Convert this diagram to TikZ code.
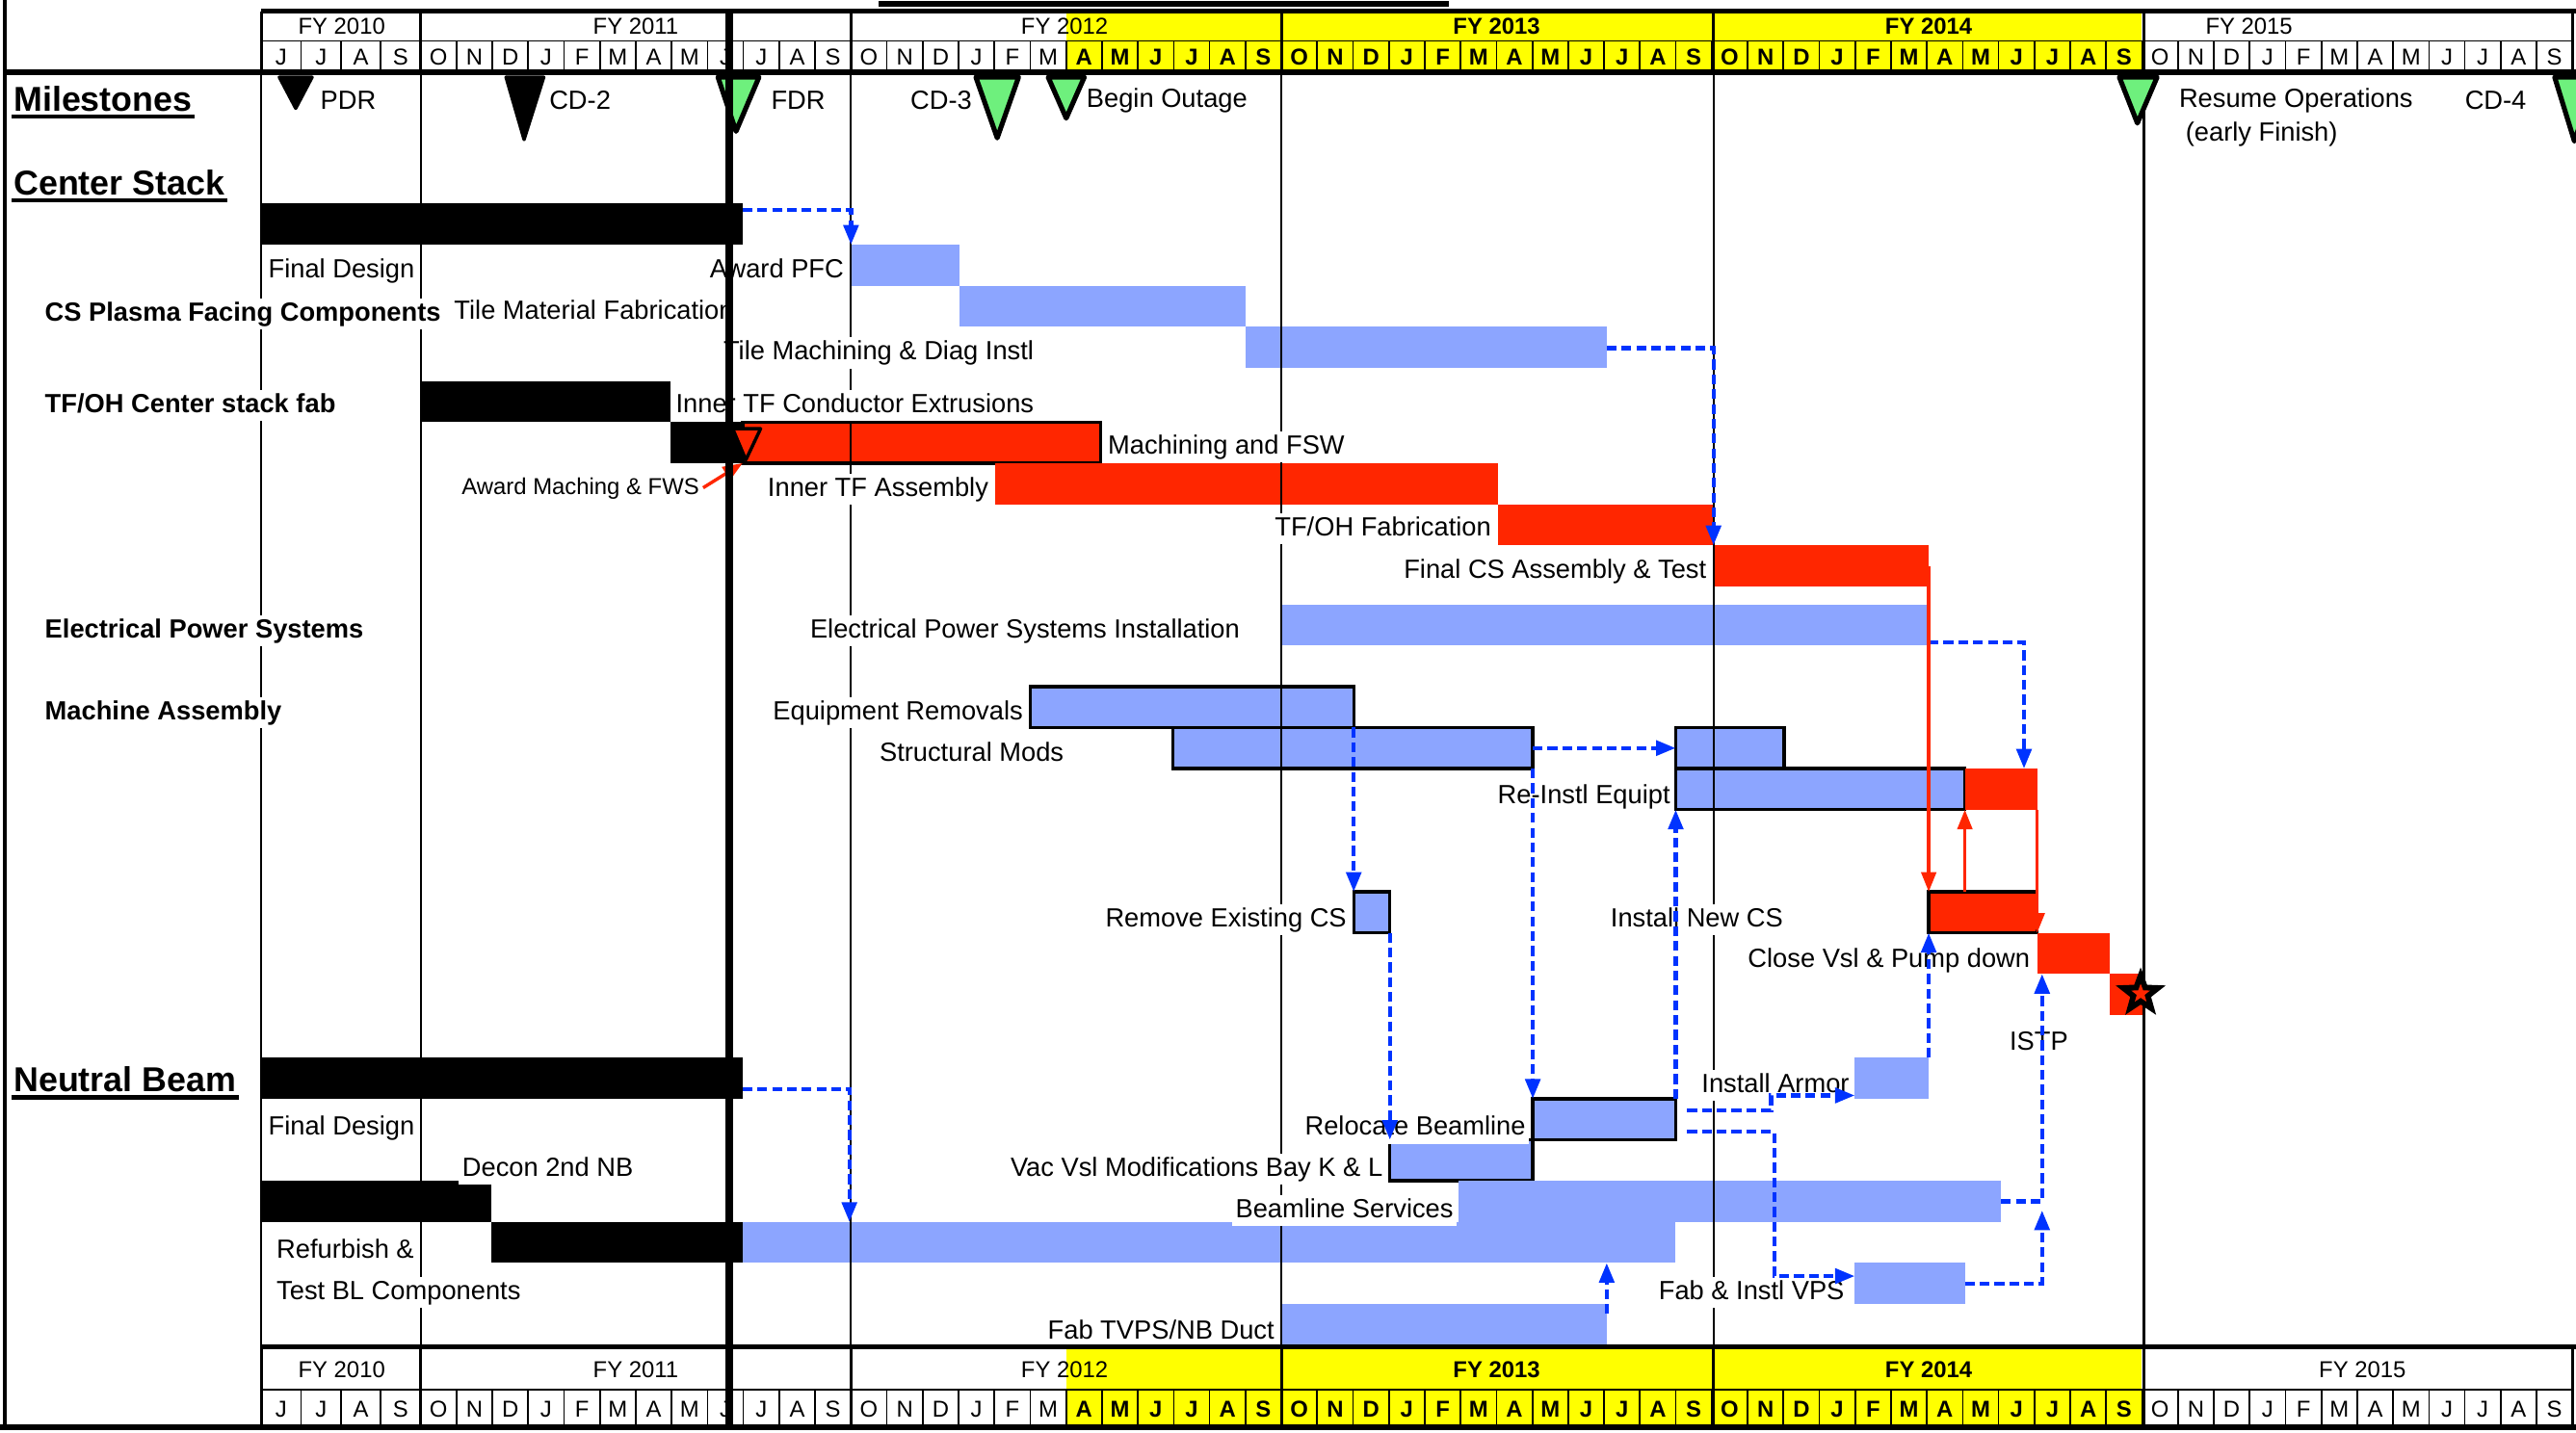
\documentclass[tikz,border=0pt]{standalone}
\usepackage{fontspec}
\setmainfont{Liberation Sans}
\usetikzlibrary{arrows.meta,fit,shapes.geometric}

\definecolor{taskblue}{RGB}{140,165,255}
\definecolor{taskred}{RGB}{255,38,0}
\definecolor{linkblue}{RGB}{0,51,255}
\definecolor{msgreen}{RGB}{110,240,125}
\definecolor{fyyellow}{RGB}{255,255,0}

\begin{document}
\begin{tikzpicture}[x=0.5pt,y=-0.5pt,
    every node/.style={font=\fontsize{8}{9.6}\selectfont, inner sep=1pt},
    lbl/.style={fill=white, text height=5.9pt, text depth=1.6pt, yshift=-1pt},
    head/.style={font=\bfseries\fontsize{10.5}{12}\selectfont, inner sep=0.5pt},
    group/.style={lbl, font=\bfseries\fontsize{8}{9.6}\selectfont},
    bar/.style={inner sep=0pt, outer sep=0pt},
    done/.style={bar, fill=black},
    plan/.style={bar, fill=taskblue},
    crit/.style={bar, fill=taskred},
    boxed/.style={draw=black, line width=1pt},
    link/.style={linkblue, line width=1.25pt, dash pattern=on 3pt off 1.5pt,
        -{Triangle[length=6pt,width=4.5pt]}},
    critlink/.style={taskred, line width=1pt, -{Triangle[length=6pt,width=4.5pt]}},
    mstone/.style={fill=msgreen, draw=black, line width=1.5pt, line join=round},
    blackstone/.style={fill=black, draw=black, line width=1pt, line join=round},
    month/.style={font=\fontsize{7}{8}\selectfont, inner sep=0pt},
    monthhl/.style={month, font=\bfseries\fontsize{7}{8}\selectfont},
    fylbl/.style={font=\fontsize{7}{8}\selectfont, inner sep=0pt},
    fyhl/.style={fylbl, font=\bfseries\fontsize{7}{8}\selectfont},
    gridline/.style={line width=0.6pt},
    cell/.style={line width=0.5pt},
    rule/.style={line width=1.5pt}]
\clip (0,0) rectangle (1568,872);

% title remnant
\draw[line width=1.8pt] (535,2.5) -- (882,2.5);

% --- center stack bars
\node[done, fit={(159,124) (452,149)}] (csfd) {};
\node[plan, fit={(518,149) (584,174)}] (pfc) {};
\node[plan, fit={(584,174) (758,199)}] (tilemat) {};
\node[plan, fit={(758,199) (978,224)}] (tilemach) {};
\node[done, fit={(256,232) (408,257)}] (tfext) {};
\node[done, fit={(408,257) (452,282)}] (machblk) {};
\node[crit, boxed, fit={(452,257) (670,282)}] (machfsw) {};
\node[crit, fit={(606,282) (912,307)}] (innertf) {};
\node[crit, fit={(912,307) (1043,332)}] (tfohfab) {};
\node[crit, fit={(1043,332) (1174,357)}] (finalcs) {};
% --- electrical power
\node[plan, fit={(780,368) (1174,393)}] (eps) {};
% --- machine assembly
\node[plan, boxed, fit={(627,418) (824,443)}] (equip) {};
\node[plan, boxed, fit={(714,443) (933,468)}] (strmods) {};
\node[plan, boxed, fit={(1020,443) (1086,468)}] (reinst1) {};
\node[plan, boxed, fit={(1020,468) (1196,493)}] (reinst2) {};
\node[crit, fit={(1196,468) (1240,493)}] (reinstred) {};
\node[plan, boxed, fit={(824,543) (846,568)}] (rmcs) {};
\node[crit, boxed, fit={(1174,543) (1240,568)}] (newcs) {};
\node[crit, fit={(1240,568) (1284,593)}] (closevsl) {};
\node[crit, fit={(1284,593) (1305,618)}] (istp) {};
% --- neutral beam
\node[done, fit={(159,644) (452,669)}] (nbfd) {};
\node[plan, fit={(1129,644) (1174,669)}] (armor) {};
\node[plan, boxed, fit={(933,669) (1020,694)}] (reloc) {};
\node[plan, boxed, fit={(846,694) (933,719)}] (vacvsl) {};
\node[plan, fit={(888,719) (1218,744)}] (blsvc) {};
\node[done, fit={(159,719) (299,744)}] (decon) {};
\node[done, fit={(299,744) (452,769)}] (refurb) {};
\node[plan, fit={(452,744) (1020,769)}] (refurbblue) {};
\node[plan, fit={(1129,769) (1196,794)}] (vps) {};
\node[plan, fit={(780,794) (978,819)}] (tvps) {};

% year lines
\foreach \x in {159,256,518,780,1043,1305}
    \draw[gridline] (\x,44) -- (\x,820);

% section titles
\node[head, anchor=west] (hms) at (7,60) {Milestones};
\node[head, anchor=west] (hcs) at (7,111) {Center Stack};
\node[head, anchor=west] (hnb) at (7,657) {Neutral Beam};
\foreach \h in {hms,hcs,hnb}
    \draw[line width=1.3pt] ([yshift=-1pt]\h.south west) -- ([yshift=-1pt]\h.south east);
\node[group, anchor=west] (gpfc) at (25,189) {CS Plasma Facing Components};
\node[group, anchor=west] (gtfoh) at (25,245) {TF/OH Center stack fab};
\node[group, anchor=west] (geps) at (25,382) {Electrical Power Systems};
\node[group, anchor=west] (gma) at (25,432) {Machine Assembly};

% task labels
\node[lbl, anchor=west] (csfdl) at (161,163) {Final Design};
\node[lbl, anchor=east] (pfcl) at (516,163) {Award PFC};
\begin{scope}
  \clip (270,170) rectangle (442,206);
  \node[lbl, anchor=east] (tilematl) at (449,188) {Tile Material Fabrication};
\end{scope}
\node[lbl, anchor=west] (tilemachl) at (438,213) {Tile Machining \& Diag Instl};
\node[lbl, anchor=west] (tfextl) at (409,245) {Inner TF Conductor Extrusions};
\node[lbl, anchor=west] (machl) at (672,270) {Machining and FSW};
\node[lbl, anchor=east, font=\fontsize{7}{8}\selectfont] (awlbl) at (428,295) {Award Maching \& FWS};
\node[lbl, anchor=east] (innertfl) at (604,296) {Inner TF Assembly};
\node[lbl, anchor=east] (tfohl) at (910,320) {TF/OH Fabrication};
\node[lbl, anchor=east] (finalcsl) at (1041,346) {Final CS Assembly \& Test};
\node[lbl, anchor=east] (epsl) at (757,382) {Electrical Power Systems Installation};
\node[lbl, anchor=east] (equipl) at (625,432) {Equipment Removals};
\node[lbl, anchor=west] (strmodsl) at (533,457) {Structural Mods};
\node[lbl, anchor=east] (reinstl) at (1019,483) {Re-Instl Equipt};
\node[lbl, anchor=east] (rmcsl) at (822,558) {Remove Existing CS};
\node[lbl, anchor=west] (newcsl) at (978,558) {Install New CS};
\node[lbl, anchor=east] (closevsll) at (1238,583) {Close Vsl \& Pump down};
\node[lbl] (istpl) at (1241,633) {ISTP};
\node[lbl, anchor=east] (armorl) at (1128,659) {Install Armor};
\node[lbl, anchor=west] (nbfdl) at (161,685) {Final Design};
\node[lbl, anchor=east] (relocl) at (931,685) {Relocate Beamline};
\node[lbl, anchor=west] (deconl) at (279,710) {Decon 2nd NB};
\node[lbl, anchor=east] (vacvsll) at (844,710) {Vac Vsl Modifications Bay K \& L};
\node[lbl, anchor=east] (blsvcl) at (887,735) {Beamline Services};
\node[lbl, anchor=west] (refurbl) at (166,760) {Refurbish \&};
\node[lbl, anchor=west] (testbll) at (166,785) {Test BL Components};
\node[lbl, anchor=east] (vpsl) at (1125,785) {Fab \& Instl VPS};
\node[lbl, anchor=east] (tvpsl) at (778,809) {Fab TVPS/NB Duct};

% milestone labels
\node (pdrl) at (212,61) {PDR};
\node[anchor=west] (cd2l) at (332,61) {CD-2};
\node[anchor=west] (fdrl) at (467,61) {FDR};
\node[anchor=east] (cd3l) at (594,61) {CD-3};
\node[anchor=west] (outl) at (659,61) {Begin Outage};
\node[anchor=west] (resl) at (1324,61) {Resume Operations};
\node[anchor=west] (earl) at (1328,82) {(early Finish)};
\node[anchor=west] (cd4l) at (1498,61) {CD-4};

% links
\coordinate (merge) at (1243,737);
\draw[link] ([yshift=-2pt]csfd.north east) -| (pfc.north west);
\draw[link] ([yshift=-6.5pt]tilemach.north east) -| (finalcs.north west);
\draw[link] ([yshift=-11.5pt]eps.north east) -| ([xshift=-4pt]reinstred.north east);
\draw[link] (equip.south east) -- (rmcs.north west);
\draw[link] (strmods.east) -- (reinst1.west);
\draw[link] (strmods.south east) -- (reloc.north west);
\draw[link] (rmcs.south east) -- (vacvsl.north west);
\draw[link] (reloc.north east) -- (reinst2.south west);
\draw[link] (armor.north east) -- (newcs.south west);
\draw[link] (blsvc.east) -| ([xshift=1.5pt]closevsl.south west);
\draw[link] (vps.east) -| (merge);
\draw[link] ([xshift=3.5pt,yshift=-3.5pt]reloc.north east) -- ++(51,0) |- ([yshift=-11.5pt]armor.north west);
\draw[link] ([xshift=3.5pt,yshift=-10pt]reloc.north east) -- ++(53,0) |- ([yshift=-4pt]vps.north west);
\draw[link] ([yshift=-3pt]tvps.north east) -- (tvps.north east |- refurbblue.south);
\draw[link] ([yshift=-9.5pt]nbfd.north east) -| ([xshift=32.5pt]refurbblue.north west);
\draw[critlink] (finalcs.east) -- (newcs.north west);
\draw[critlink] ([xshift=11pt]newcs.north west) -- (reinstred.south west);
\draw[critlink] (reinstred.south east) -- (closevsl.north west);

% milestones
\draw[blackstone] (170,47) -- (190,47) -- (180,66) -- cycle;
\draw[blackstone] (308,47) -- (331,47) -- (319,85) -- cycle;
\draw[mstone] (437,47) -- (462,47) -- (448,80) -- cycle;
\draw[mstone] (594,47) -- (620,47) -- (607,84) -- cycle;
\draw[mstone] (638,47) -- (660,47) -- (649,72) -- cycle;
\draw[mstone] (1290,47) -- (1313,47) -- (1301,75) -- cycle;
\draw[mstone] (1555,47) -- (1580,47) -- (1567,86) -- cycle;
\draw[fill=taskred, draw=black, line width=1pt, line join=round] (446,261) -- (463,261) -- (454,280) -- cycle;
\coordinate (awtip) at (452,282);
\draw[critlink] (awlbl.east) -- (awtip);
\node[star, star points=5, star point ratio=2.4, fill=black, inner sep=0pt, minimum size=16pt] (goal) at (1303,605) {};
\node[star, star points=5, star point ratio=2.4, fill=taskred, inner sep=0pt, minimum size=6pt] (goalc) at (goal) {};

% header and footer
\fill[fyyellow] (648.9,7) rectangle (1303.8,44);
\fill[fyyellow] (648.9,820) rectangle (1303.8,869);
\foreach \x in {183.25,207.5,231.75}
    \draw[cell] (\x,25) -- (\x,44) (\x,846) -- (\x,869);
\foreach \m/\x [count=\i] in {J/171.1,J/195.4,A/219.6,S/243.9}{
    \node[month] (mt0-\i) at (\x,35) {\m};
    \node[month] (mb0-\i) at (\x,858) {\m};
}
\foreach \fy in {0,...,4}{
  \foreach \m [count=\i from 0] in {O,N,D,J,F,M,A,M,J,J,A,S}{
    \pgfmathtruncatemacro\k{12*\fy+\i}
    \pgfmathsetmacro\xl{256+21.83*\k}
    \pgfmathsetmacro\xc{\xl+10.915}
    \draw[cell] (\xl,25) -- (\xl,44) (\xl,846) -- (\xl,869);
    \ifnum\k<18 \tikzset{mstyle/.style={month}}\else
      \ifnum\k>47 \tikzset{mstyle/.style={month}}\else
        \tikzset{mstyle/.style={monthhl}}\fi\fi
    \node[mstyle] (mt-\k) at (\xc,35) {\m};
    \node[mstyle] (mb-\k) at (\xc,858) {\m};
  }
}
\foreach \x in {159,256,518,780,1043,1305,1566}
    \draw[line width=0.8pt] (\x,7) -- (\x,44) (\x,820) -- (\x,869);
\draw[cell] (159,25) -- (1566,25);
\draw[cell] (159,846) -- (1566,846);
\node[fylbl] (fyt10) at (208,16) {FY 2010};
\node[fylbl] (fyt11) at (387,16) {FY 2011};
\node[fylbl] (fyt12) at (648,16) {FY 2012};
\node[fyhl] (fyt13) at (911,16) {FY 2013};
\node[fyhl] (fyt14) at (1174,16) {FY 2014};
\node[fylbl] (fyt15) at (1369,16) {FY 2015};
\node[fylbl] (fyb10) at (208,834) {FY 2010};
\node[fylbl] (fyb11) at (387,834) {FY 2011};
\node[fylbl] (fyb12) at (648,834) {FY 2012};
\node[fyhl] (fyb13) at (911,834) {FY 2013};
\node[fyhl] (fyb14) at (1174,834) {FY 2014};
\node[fylbl] (fyb15) at (1438,834) {FY 2015};
\draw[rule] (159,7) -- (1568,7);
\draw[rule] (3,44) -- (1568,44);
\draw[rule] (159,820) -- (1568,820);
\draw[rule] (0,869) -- (1568,869);
\draw[line width=1pt] (3,0) -- (3,869);

% status date
\draw[line width=2.5pt] (444,7) -- (444,869);
\end{tikzpicture}
\end{document}
